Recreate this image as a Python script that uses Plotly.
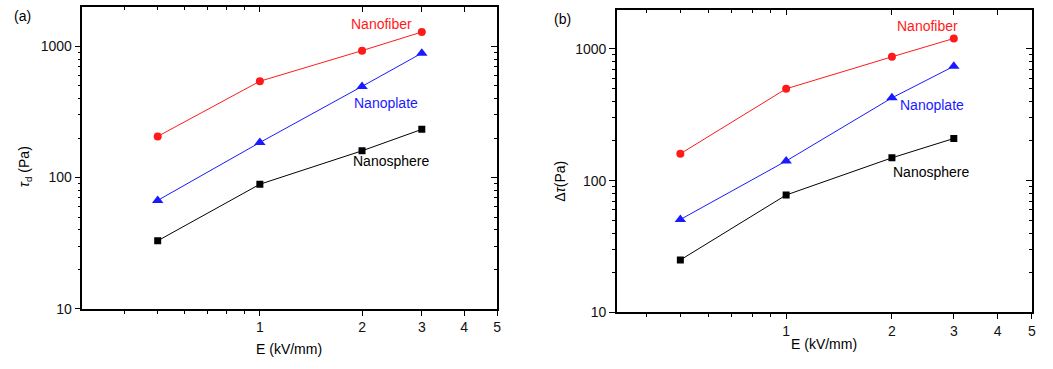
import plotly.graph_objects as go
import math

# Data
E = [0.5, 1, 2, 3]
tau_d_nanofiber = [206, 542, 927, 1285]
tau_d_nanoplate = [67, 185, 495, 887]
tau_d_nanosphere = [33, 89, 160, 233]

dtau_nanofiber = [160, 498, 871, 1200]
dtau_nanoplate = [50.7, 141, 425, 738]
dtau_nanosphere = [25, 77.8, 149, 209]

series_names = ["Nanofiber", "Nanoplate", "Nanosphere"]
series_colors = ["#ff1a1a", "#1a1aff", "#000000"]
series_symbols = ["circle", "triangle-up", "square"]
series_sizes = [8, 10, 7]

x_ticks = [1, 2, 3, 4, 5]
x_minor = [0.4, 0.5, 0.6, 0.7, 0.8, 0.9]
y_ticks = [10, 100, 1000]
y_minor = [20, 30, 40, 50, 60, 70, 80, 90, 200, 300, 400, 500, 600, 700, 800, 900]

W, H = 1053, 369
FONT = "Arial, 'Liberation Sans', sans-serif"

def px(x):
    return x / W

def py(y):
    return 1 - y / H

fig = go.Figure()

panel_a = [tau_d_nanofiber, tau_d_nanoplate, tau_d_nanosphere]
panel_b = [dtau_nanofiber, dtau_nanoplate, dtau_nanosphere]

for vals, name, col, sym, sz in zip(panel_a, series_names, series_colors, series_symbols, series_sizes):
    fig.add_trace(go.Scatter(x=E, y=vals, mode="lines+markers", name=name,
                             line=dict(color=col, width=1),
                             marker=dict(color=col, symbol=sym, size=sz),
                             xaxis="x", yaxis="y", showlegend=False))
for vals, name, col, sym, sz in zip(panel_b, series_names, series_colors, series_symbols, series_sizes):
    fig.add_trace(go.Scatter(x=E, y=vals, mode="lines+markers", name=name,
                             line=dict(color=col, width=1),
                             marker=dict(color=col, symbol=sym, size=sz),
                             xaxis="x2", yaxis="y2", showlegend=False))

xr_a = [math.log10(0.3), math.log10(5)]
xr_b = [math.log10(0.33), math.log10(5)]
yr = [1, 3.297]

dom_a_x = [px(82.7), px(499)]
dom_a_y = [py(315.7), py(7.5)]
dom_b_x = [px(619.3), px(1035.7)]
dom_b_y = [py(319.3), py(10)]

tickfont = dict(family=FONT, size=14, color="#111111")

def xaxis_main(rng, dom, anchor):
    return dict(type="log", range=rng, domain=dom, anchor=anchor,
                showline=True, linecolor="black", linewidth=1.5,
                showgrid=False, zeroline=False,
                tickmode="array", tickvals=x_ticks, ticktext=[str(v) for v in x_ticks],
                ticks="outside", ticklen=5, tickwidth=1.2, tickcolor="black",
                tickfont=tickfont,
                minor=dict(tickmode="array", tickvals=x_minor, ticks="outside",
                           ticklen=3, tickwidth=1.2, tickcolor="black", showgrid=False))

def yaxis_main(rng, dom, anchor):
    return dict(type="log", range=rng, domain=dom, anchor=anchor,
                showline=True, linecolor="black", linewidth=1.5,
                showgrid=False, zeroline=False,
                tickmode="array", tickvals=y_ticks, ticktext=[str(v) for v in y_ticks],
                ticks="outside", ticklen=6, tickwidth=1.2, tickcolor="black",
                tickfont=tickfont,
                minor=dict(tickmode="array", tickvals=y_minor, ticks="outside",
                           ticklen=3, tickwidth=1.2, tickcolor="black", showgrid=False))

def xaxis_top(rng, dom, anchor, over):
    d = xaxis_main(rng, dom, anchor)
    d.update(overlaying=over, side="top", ticks="inside", showticklabels=False)
    d["minor"]["ticks"] = "inside"
    return d

def yaxis_right(rng, dom, anchor, over):
    d = yaxis_main(rng, dom, anchor)
    d.update(overlaying=over, side="right", ticks="inside", showticklabels=False)
    d["minor"]["ticks"] = "inside"
    return d

fig.update_layout(
    width=W, height=H,
    margin=dict(l=0, r=0, t=0, b=0),
    paper_bgcolor="white", plot_bgcolor="white",
    font=dict(family=FONT, size=14, color="black"),
    xaxis=xaxis_main(xr_a, dom_a_x, "y"),
    yaxis=yaxis_main(yr, dom_a_y, "x"),
    xaxis2=xaxis_main(xr_b, dom_b_x, "y2"),
    yaxis2=yaxis_main(yr, dom_b_y, "x2"),
    xaxis3=xaxis_top(xr_a, dom_a_x, "y", "x"),
    yaxis3=yaxis_right(yr, dom_a_y, "x", "y"),
    xaxis4=xaxis_top(xr_b, dom_b_x, "y2", "x2"),
    yaxis4=yaxis_right(yr, dom_b_y, "x2", "y2"),
)

# empty traces so overlay axes get drawn
fig.add_trace(go.Scatter(x=[], y=[], xaxis="x3", yaxis="y3", showlegend=False, hoverinfo="skip"))
fig.add_trace(go.Scatter(x=[], y=[], xaxis="x4", yaxis="y4", showlegend=False, hoverinfo="skip"))

def ann(text, x, y, color="black", size=14, angle=0):
    fig.add_annotation(text=text, x=px(x), y=py(y), xref="paper", yref="paper",
                       showarrow=False, xanchor="center", yanchor="middle",
                       textangle=angle, font=dict(family=FONT, size=size, color=color))

# panel labels
ann("(a)", 23, 16)
ann("(b)", 565, 19)
# series labels
ann("Nanofiber", 383, 25, series_colors[0])
ann("Nanoplate", 387, 105, series_colors[1])
ann("Nanosphere", 392, 165, series_colors[2])
ann("Nanofiber", 931, 27, series_colors[0])
ann("Nanoplate", 936, 107, series_colors[1])
ann("Nanosphere", 935, 176, series_colors[2])
# axis titles
ann("E (kV/mm)", 290, 357)
ann("E (kV/mm)", 827, 352)
ann("<i>τ</i><sub>d</sub> (Pa)", 25, 170, angle=-90)
ann("Δ<i>τ</i>(Pa)", 562, 185, angle=-90)

fig.write_html("out.html", config={"displayModeBar": False},
               post_script="document.body.style.margin='0';document.body.style.overflow='hidden';")
